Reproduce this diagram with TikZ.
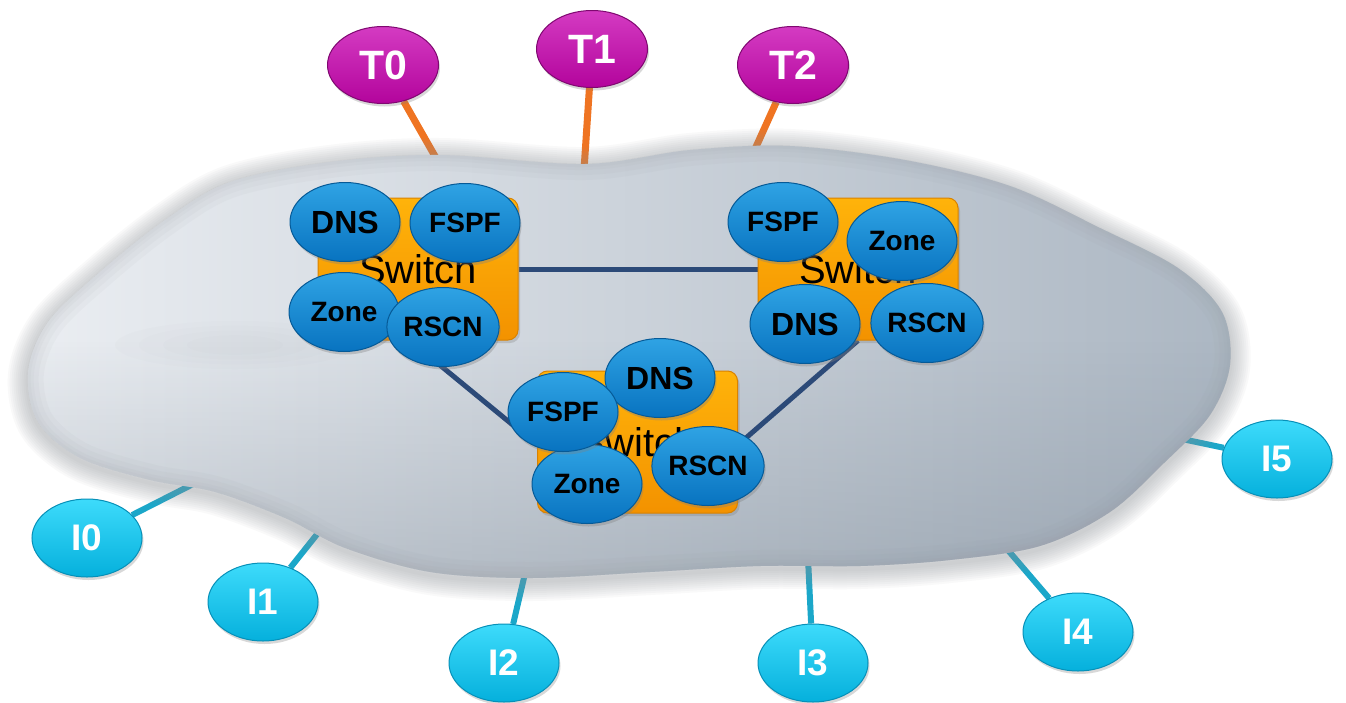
\documentclass[tikz,border=0pt]{standalone}
\usepackage{fontspec}
\setmainfont{Liberation Sans}
\usetikzlibrary{shapes.geometric,shadows,calc,fadings}

\definecolor{svctop}{HTML}{2FA3E4}
\definecolor{svcbot}{HTML}{0873C0}
\definecolor{svcedge}{HTML}{065A97}
\definecolor{ttop}{HTML}{D43BC2}
\definecolor{tbot}{HTML}{B3049C}
\definecolor{tedge}{HTML}{7F0870}
\definecolor{itop}{HTML}{3DDBFB}
\definecolor{ibot}{HTML}{05B0DC}
\definecolor{iedge}{HTML}{0790B8}
\definecolor{swtop}{HTML}{FFB30A}
\definecolor{swbot}{HTML}{F39200}
\definecolor{swedge}{HTML}{D98200}
\definecolor{tline}{HTML}{EF7422}
\definecolor{iline}{HTML}{1BA7C9}
\definecolor{linkcol}{HTML}{2C4A78}
\definecolor{cloudA}{HTML}{ECEFF3}
\definecolor{cloudB}{HTML}{E6EAEF}
\definecolor{cloudC}{HTML}{ABB6C2}
\definecolor{cloudshade}{HTML}{74818F}
\definecolor{cloudrim}{HTML}{8E9197}

\tikzfading[name=fadeup, top color=transparent!100, bottom color=transparent!0]

\pgfdeclarelayer{back}
\pgfsetlayers{back,main}

% outline of the fabric cloud
\def\cloudpath{plot[smooth cycle, tension=0.55] coordinates {
  (230,182) (330,162) (440,155) (585,164) (690,150) (790,146) (905,160)
  (1010,186) (1100,228) (1178,268) (1222,312) (1230,365) (1210,415)
  (1165,462) (1110,512) (1040,546) (950,560) (860,566) (760,566)
  (650,572) (530,578) (430,572) (345,548) (285,518) (215,492) (150,480)
  (80,458) (38,422) (28,372) (48,322) (100,272) (165,220)}}

\begin{document}
\begin{tikzpicture}[x=1pt,y=-1pt,
  svc/.style={ellipse, draw=svcedge, line width=1pt, top color=svctop, bottom color=svcbot,
    minimum width=110pt, minimum height=79pt, inner sep=0pt, text=black,
    font=\bfseries\fontsize{28}{28}\selectfont,
    drop shadow={opacity=0.35, shadow xshift=1.5pt, shadow yshift=-3pt}},
  dns/.style={svc, font=\bfseries\fontsize{32}{32}\selectfont},
  tnode/.style={ellipse, draw=tedge, line width=1pt, top color=ttop, bottom color=tbot,
    minimum width=111pt, minimum height=77pt, inner sep=0pt, text=white,
    font=\bfseries\fontsize{41}{41}\selectfont,
    drop shadow={opacity=0.3, shadow xshift=1.5pt, shadow yshift=-3pt}},
  inode/.style={ellipse, draw=iedge, line width=1pt, top color=itop, bottom color=ibot,
    minimum width=110pt, minimum height=78pt, inner sep=0pt, text=white,
    font=\bfseries\fontsize{37}{37}\selectfont,
    drop shadow={opacity=0.3, shadow xshift=1.5pt, shadow yshift=-3pt}},
  switchbox/.style={rectangle, rounded corners=10pt, draw=swedge, line width=1pt,
    top color=swtop, bottom color=swbot, minimum width=200pt, minimum height=142pt,
    inner sep=0pt, font=\fontsize{40}{40}\selectfont, text=black,
    drop shadow={opacity=0.3, shadow xshift=2pt, shadow yshift=-3pt}},
  tconn/.style={draw=tline, line width=7pt},
  iconn/.style={draw=iline, line width=6pt},
  link/.style={draw=linkcol, line width=5pt}
]
\useasboundingbox (0,0) rectangle (1346,702);

% target ports
\node[tnode] (t0) at (383,65) {T0};
\node[tnode] (t1) at (592,49) {T1};
\node[tnode] (t2) at (793,65) {T2};

% initiator ports
\node[inode] (i0) at (87,538) {I0};
\node[inode] (i1) at (263,602) {I1};
\node[inode] (i2) at (504,663) {I2};
\node[inode] (i3) at (813,663) {I3};
\node[inode] (i4) at (1078,632) {I4};
\node[inode] (i5) at (1277,459) {I5};

% attachment points on the cloud
\coordinate (t0e) at (440,165);
\coordinate (t1e) at (584,170);
\coordinate (t2e) at (751,158);
\coordinate (i0e) at (205,478);
\coordinate (i1e) at (330,518);
\coordinate (i2e) at (527,565);
\coordinate (i3e) at (808,558);
\coordinate (i4e) at (995,535);
\coordinate (i5e) at (1130,428);

% switches
\node[switchbox] (swA) at (418,269) {Switch};
\node[switchbox] (swB) at (858,269) {Switch};
\node[switchbox] (swC) at (637.5,442) {Switch};

% fabric services, switch A
\node[dns] (aDNS)  at (345,222) {DNS};
\node[svc] (aFSPF) at (465,223) {FSPF};
\node[svc] (aZone) at (344,312) {Zone};
\node[svc] (aRSCN) at (443,327) {RSCN};

% fabric services, switch B
\node[svc] (bFSPF) at (783,222) {FSPF};
\node[svc] (bZone) at (902,241) {Zone};
\node[dns] (bDNS)  at (805,324) {DNS};
\node[svc] (bRSCN) at (927,323) {RSCN};

% fabric services, switch C
\node[dns] (cDNS)  at (660,378) {DNS};
\node[svc] (cZone) at (587,484) {Zone};
\node[svc] (cFSPF) at (563,412) {FSPF};
\node[svc] (cRSCN) at (708,466) {RSCN};

\begin{pgfonlayer}{back}
  \fill[white] (0,0) rectangle (1346,702);
  % port connectors
  \draw[tconn] (t0) -- (t0e);
  \draw[tconn] (t1) -- (t1e);
  \draw[tconn] (t2) -- (t2e);
  \foreach \n in {i0,i1,i2,i3,i4,i5} \draw[iconn] (\n) -- (\n e);
  % soft halo round the cloud
  \begin{scope}[yshift=-3pt]
    \foreach \w in {40,36,32,28,24,20,16,12,8,4}
      \draw[cloudrim, line width=\w pt, opacity=0.05, line join=round] \cloudpath;
  \end{scope}
  % cloud body
  \begin{scope}
    \clip \cloudpath;
    \shade[left color=cloudA, middle color=cloudB, right color=cloudC] (0,120) rectangle (1250,600);
    \fill[cloudshade, path fading=fadeup, opacity=0.36] (0,340) rectangle (1250,600);
    % faint fold across the left lobe
    \foreach \r in {1,0.8,0.6,0.4}
      \fill[cloudrim, opacity=0.022] (235,345) ellipse ({120*\r} and {24*\r});
    \foreach \w in {32,22,12,6}
      \draw[cloudrim, line width=\w pt, opacity=0.05, line join=round] \cloudpath;
  \end{scope}
  % inter-switch links
  \draw[link] (swA.east) -- (swB.west);
  \draw[link] ($(swA.south west)!0.46!(swA.south east)$) -- ($(swC.north west)!0.52!(swC.south west)$);
  \draw[link] ($(swB.south west)!0.5!(swB.south east)$) -- ($(swC.north east)!0.52!(swC.south east)$);
\end{pgfonlayer}
\end{tikzpicture}
\end{document}
